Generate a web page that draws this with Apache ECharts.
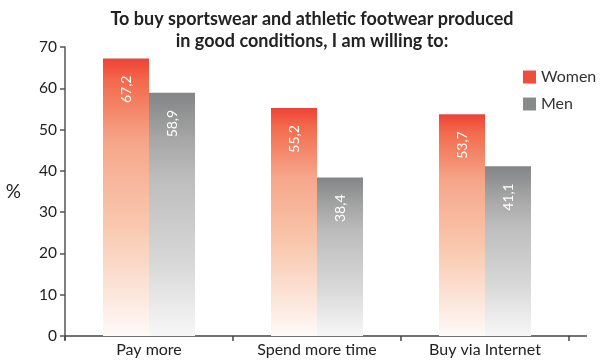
<!DOCTYPE html>
<html><head><meta charset="utf-8">
<script src="https://cdn.jsdelivr.net/npm/echarts@6/dist/echarts.min.js"></script>
<style>html,body{margin:0;padding:0;background:#fff}#c{width:606px;height:360px}</style>
</head><body><div id="c"></div>
<script>
const categories = ['Pay more', 'Spend more time', 'Buy via Internet'];
const women = [67.2, 55.2, 53.7];
const men = [58.9, 38.4, 41.1];
const yTicks = [0, 10, 20, 30, 40, 50, 60, 70];
const titleText = 'To buy sportswear and athletic footwear produced\nin good conditions, I am willing to:';

const FONT = 'Lato, "Open Sans", sans-serif';
const chart = echarts.init(document.getElementById('c'));
function grad(stops){
  return new echarts.graphic.LinearGradient(0,0,0,1, stops.map(s=>({offset:s[0],color:s[1]})));
}
const womenGrad = grad([[0,'#ee4236'],[0.08,'#f26a4c'],[0.3,'#f6a68a'],[0.6,'#f9c8ae'],[0.85,'#fce6dc'],[1,'#fefaf8']]);
const menGrad = grad([[0,'#838586'],[0.2,'#a8a8a8'],[0.35,'#bdbdbd'],[0.7,'#d8d8d8'],[1,'#f7f7f7']]);
const lbl = {
  show: true, position: 'insideTop', distance: 17, rotate: 90,
  align: 'right', verticalAlign: 'middle',
  color: '#fff', fontSize: 14, fontFamily: FONT,
  formatter: p => String(p.value).replace('.', ',')
};
chart.setOption({
  animation: false,
  title: {
    text: titleText, left: 307, textAlign: 'center', top: 3,
    textStyle: {fontSize: 18, fontWeight: 'bold', color: '#222', fontFamily: FONT, lineHeight: 22}
  },
  legend: {
    orient: 'vertical', left: 518, top: 64, itemWidth: 13, itemHeight: 13, itemGap: 11,
    icon: 'rect',
    textStyle: {fontSize: 16, color: '#333', fontFamily: FONT},
    data: [{name: 'Women', itemStyle: {color: '#f04d3f'}}, {name: 'Men', itemStyle: {color: '#888a8a'}}]
  },
  grid: {left: 65, top: 47, width: 504, height: 289},
  xAxis: {
    type: 'category', data: categories,
    axisLine: {lineStyle: {color: '#444', width: 1.5}},
    axisTick: {show: true, length: 5, lineStyle: {color: '#444', width: 1.5}},
    axisLabel: {fontSize: 16, color: '#222', fontFamily: FONT, margin: 6}
  },
  yAxis: {
    type: 'value', min: 0, max: 70, interval: 10,
    name: '%', nameLocation: 'middle', nameRotate: 0, nameGap: 44,
    nameTextStyle: {fontSize: 19, color: '#222', fontFamily: FONT},
    axisLine: {show: true, lineStyle: {color: '#555', width: 1.5}},
    axisTick: {show: true, length: 5, lineStyle: {color: '#555', width: 1.5}},
    splitLine: {show: false},
    axisLabel: {fontSize: 15.5, color: '#222', fontFamily: FONT, margin: 8,
      formatter: v => yTicks.includes(v) ? String(v) : ''}
  },
  graphic: [
    {type: 'line', shape: {x1: 569, y1: 336, x2: 587, y2: 336}, style: {stroke: '#444', lineWidth: 1.5}},
    {type: 'line', shape: {x1: 65, y1: 336, x2: 65, y2: 340}, style: {stroke: '#555', lineWidth: 1.5}}
  ],
  series: [
    {name: 'Women', type: 'bar', data: women, barWidth: 46, barGap: '0%', itemStyle: {color: womenGrad}, label: lbl},
    {name: 'Men', type: 'bar', data: men, barWidth: 46, barGap: '0%', itemStyle: {color: menGrad}, label: lbl}
  ]
});
</script></body></html>
